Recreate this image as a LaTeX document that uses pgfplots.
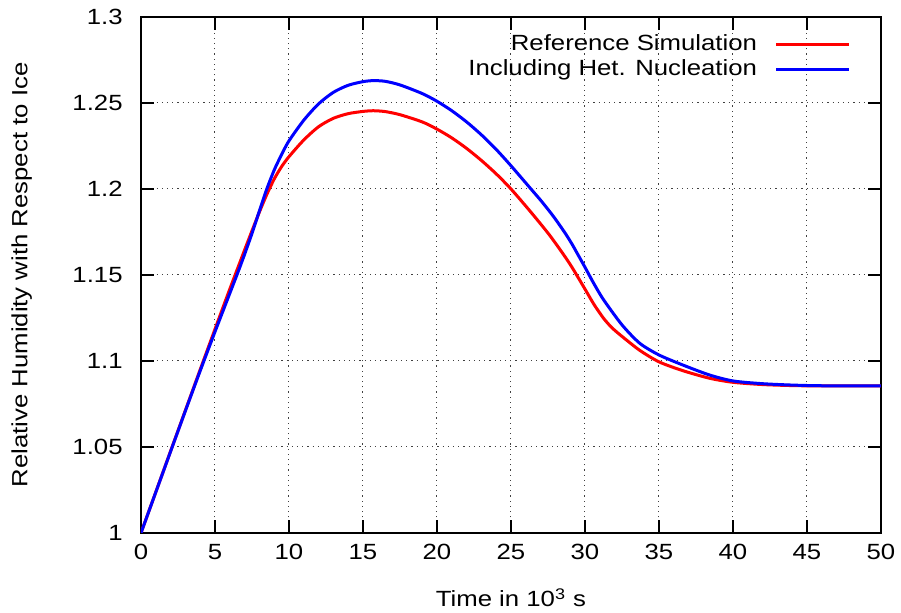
\documentclass[border=0pt]{standalone}
\usepackage{fontspec}
\setmainfont{Liberation Sans}[FakeStretch=1.17]
\usepackage{pgfplots}
\pgfplotsset{compat=1.18}
\begin{document}
\fontsize{11}{13}\selectfont
\begin{tikzpicture}
\useasboundingbox (-70.5pt,-40pt) rectangle (380pt,266.5pt);
\begin{axis}[
  at={(0pt,0pt)}, anchor=south west,
  scale only axis=true, width=370pt, height=258pt,
  xmin=0, xmax=50, ymin=1, ymax=1.3,
  xtick={0,5,10,15,20,25,30,35,40,45,50},
  ytick={1,1.05,1.1,1.15,1.2,1.25,1.3},
  yticklabels={1,1.05,1.1,1.15,1.2,1.25,1.3},
  /pgf/number format/assume math mode=true,
  tick align=inside, major tick length=6.5pt,
  major tick style={line width=0.6pt, black},
  axis line style={line width=1.2pt, black},
  grid=major,
  major grid style={line width=0.5pt, black!75, dash pattern=on 0.6pt off 2pt},
  yticklabel style={inner sep=0pt, xshift=-9pt},
  xticklabel style={inner sep=0pt, yshift=-5.5pt},
  xlabel={Time in 10\textsuperscript{3} s},
  ylabel={Relative Humidity with Respect to Ice},
  xlabel style={at={(axis description cs:0.5,-0.1434)}, anchor=base, inner sep=0pt},
  ylabel style={at={(axis description cs:-0.1534,0.5)}, anchor=base, inner sep=0pt},
  legend plot pos=right,
  legend cell align=right,
  legend image code/.code={\draw[#1] (0pt,0pt) -- (36.5pt,0pt);},
  legend style={draw=none, fill=none, at={(axis description cs:0.96,0.967)}, anchor=north east,
    inner sep=0pt, column sep=9pt, row sep=2pt,
    nodes={inner sep=0pt, text height=8pt, text depth=2.5pt}},
]
\addplot[color=red, line width=1.5pt, smooth, tension=0.45] coordinates {
(0,1.000) (1,1.0238) (2,1.0476) (3,1.0713) (4,1.0950) (5,1.1185) (6,1.1418) (7,1.1645)
(7.5,1.1757) (8,1.1866) (8.5,1.1968) (9,1.2058) (9.5,1.2130) (10,1.2188) (11,1.2285)
(12,1.2362) (13,1.2411) (14,1.2438) (15,1.2451) (15.7,1.2455) (16.5,1.2450) (17.5,1.2432)
(19,1.2390) (20,1.2348) (21,1.2297) (22,1.2236) (23,1.2166) (24,1.2088) (25,1.2000)
(26.3,1.1870) (27.55,1.1738) (28.5,1.1625) (29.12,1.1545) (30,1.1418) (30.6,1.1330)
(31.24,1.1250) (31.8,1.1195) (32.5,1.1143) (33.7,1.1062) (35,1.0995) (36.6,1.0944)
(38.4,1.0900) (40,1.0876) (42,1.0863) (44,1.0857) (46,1.0855) (50,1.0855)
};
\addlegendentry{Reference Simulation}
\addplot[color=blue, line width=1.5pt, smooth, tension=0.45] coordinates {
(0,1.000) (1,1.0237) (2,1.0474) (3,1.0710) (4,1.0943) (5,1.1170) (6,1.1393) (6.6,1.1527)
(7,1.1620) (7.5,1.1742) (8,1.1872) (8.5,1.2000) (9,1.2110) (9.5,1.2200) (10,1.2280)
(11,1.2400) (12,1.2495) (13,1.2562) (14,1.2603) (15,1.2624) (15.7,1.2630) (16.5,1.2626)
(17.5,1.2605) (19,1.2555) (20,1.2510) (21,1.2455) (22,1.2390) (23,1.2315) (24,1.2230)
(25,1.2135) (26.3,1.2005) (27,1.1935) (27.55,1.1876) (28,1.1825) (28.67,1.1742)
(29.12,1.1680) (29.5,1.1622) (30,1.1545) (30.6,1.1450) (31.24,1.1358) (32.5,1.1210)
(33.7,1.1103) (35,1.1035) (36.6,1.0977) (38.4,1.0919) (40,1.0884) (42,1.0868)
(44,1.0860) (46,1.0856) (50,1.0855)
};
\addlegendentry{Including Het. Nucleation}
\end{axis}
\end{tikzpicture}
\end{document}
